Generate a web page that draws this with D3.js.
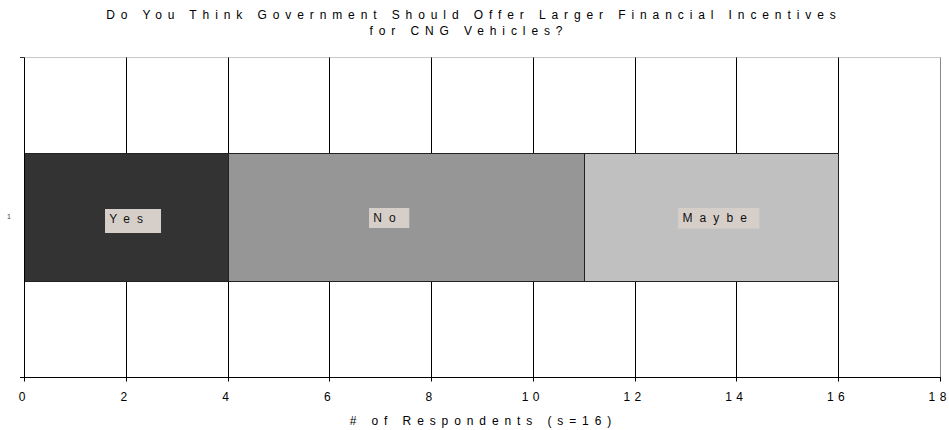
<!DOCTYPE html>
<html><head><meta charset="utf-8">
<script src="https://cdn.jsdelivr.net/npm/d3@7"></script>
<style>
html,body{margin:0;padding:0;background:#fff;}
svg{display:block;font-family:"Liberation Sans",Arial,sans-serif;}
</style></head>
<body><svg id="c" width="949" height="430"></svg>
<script>
// ---- data ----
const titleLines = ["Do You Think Government Should Offer Larger Financial Incentives", "for CNG Vehicles?"];
const categories = ["1"];
const seriesNames = ["Yes", "No", "Maybe"];
const seriesValues = [4, 7, 5];
const xTicks = [0, 2, 4, 6, 8, 10, 12, 14, 16, 18];
const xAxisTitle = "# of Respondents (s=16)";

// ---- layout / style ----
const colors = ["#333333", "#969696", "#c0c0c0"];
const labelBoxes = [ {dx:-21, w:56, h:24, top:-7.7, base:6},
                     {dx:-36.7, w:40.3, h:20, top:-8.7, base:4.8},
                     {dx:-32.7, w:81.3, h:20.7, top:-8.7, base:4.8} ];

const svg = d3.select("#c");
const M = {left:24.3, right:939.7, top:56.7, bottom:376.7};
const x = d3.scaleLinear().domain([0, 18]).range([M.left, M.right]);
const y = d3.scaleBand().domain(categories).range([M.top, M.bottom]).paddingInner(0.4286).paddingOuter(0.4286);
const cr = v => Math.round(v) + 0.5;
const LS = 5.9;

// title
const titleCenters = [471, 466];
titleLines.forEach((s, i) => {
  svg.append("text").attr("x", titleCenters[i] + LS / 2).attr("y", i === 0 ? 18.5 : 34.5)
   .attr("text-anchor", "middle").attr("font-size", 12).attr("fill", "#000")
   .attr("letter-spacing", LS).text(s);
});

// top border
svg.append("line").attr("x1", 20).attr("x2", cr(M.right)).attr("y1", cr(M.top)).attr("y2", cr(M.top))
  .attr("stroke", "#c8c8c8");

// gridlines
svg.append("g").selectAll("line").data(xTicks.slice(1)).join("line")
  .attr("x1", d => cr(x(d))).attr("x2", d => cr(x(d)))
  .attr("y1", cr(M.top)).attr("y2", cr(M.bottom))
  .attr("stroke", d => d === 18 ? "#888" : "#000");

// bars (stacked)
let cum = 0;
const segs = seriesValues.map((v, i) => { const s = {name: seriesNames[i], x0: cum, x1: cum + v, i}; cum += v; return s; });
const band = y(categories[0]), bw = y.bandwidth();
svg.append("g").selectAll("rect").data(segs).join("rect")
  .attr("x", d => cr(x(d.x0))).attr("width", d => cr(x(d.x1)) - cr(x(d.x0)))
  .attr("y", cr(band)).attr("height", Math.round(bw))
  .attr("fill", d => colors[d.i]).attr("stroke", "#222").attr("stroke-width", 1);

// data labels
const lg = svg.append("g");
segs.forEach(d => {
  const b = labelBoxes[d.i];
  const cx = x((d.x0 + d.x1) / 2);
  const cy = band + bw / 2;
  const left = cx + b.dx;
  lg.append("rect").attr("x", left).attr("y", cy + b.top).attr("width", b.w).attr("height", b.h)
    .attr("fill", "#d6cec8");
  lg.append("text").attr("x", left + 4.3).attr("y", cy + b.base)
    .attr("font-size", 12).attr("letter-spacing", 7.1).attr("fill", "#111").text(d.name);
});

// left axis
svg.append("line").attr("x1", cr(M.left)).attr("x2", cr(M.left)).attr("y1", cr(M.top)).attr("y2", cr(M.bottom)).attr("stroke", "#000");
[M.top, M.bottom].forEach(v => svg.append("line").attr("x1", 20).attr("x2", cr(M.left)).attr("y1", cr(v)).attr("y2", cr(v)).attr("stroke", "#333"));
svg.append("text").attr("x", 11).attr("y", band + bw / 2 + 2).attr("text-anchor", "end")
  .attr("font-size", 7).attr("fill", "#444").text(categories[0]);

// bottom axis
const ax = svg.append("g");
ax.append("line").attr("x1", 20).attr("x2", cr(M.right) + 0.5).attr("y1", cr(M.bottom)).attr("y2", cr(M.bottom)).attr("stroke", "#000");
ax.selectAll("line.tk").data(xTicks).join("line").attr("class", "tk")
  .attr("x1", d => cr(x(d))).attr("x2", d => cr(x(d))).attr("y1", cr(M.bottom)).attr("y2", cr(M.bottom) + 4).attr("stroke", "#000");
ax.selectAll("text.tl").data(xTicks).join("text").attr("class", "tl")
  .attr("x", d => x(d) - 2.2).attr("y", 400.5)
  .attr("text-anchor", "middle").attr("font-size", 12).attr("fill", "#000")
  .each(function(d) {
    const t = d3.select(this);
    String(d).split("").forEach((ch, k) => t.append("tspan").attr("dx", k === 0 ? 0 : 4.4).text(ch));
  });

svg.append("text").attr("x", 480.5 + LS / 2).attr("y", 425).attr("text-anchor", "middle")
  .attr("font-size", 12).attr("letter-spacing", LS).attr("fill", "#000").text(xAxisTitle);
</script></body></html>
